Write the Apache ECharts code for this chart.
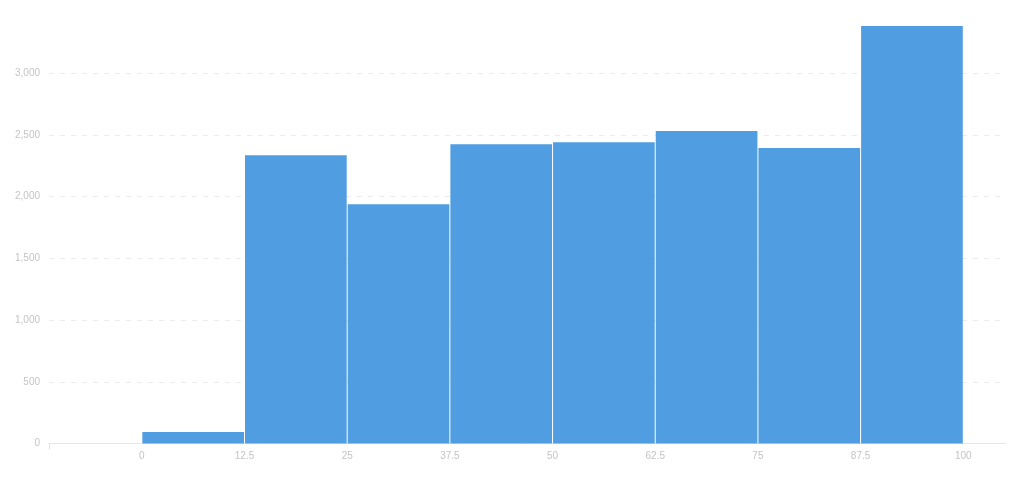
<!DOCTYPE html>
<html>
<head>
<meta charset="utf-8">
<script src="https://cdn.jsdelivr.net/npm/echarts@6/dist/echarts.min.js"></script>
<style>
html,body{margin:0;padding:0;background:#fff;}
#chart{width:1010px;height:479px;}
</style>
</head>
<body>
<div id="chart"></div>
<script>
var binStarts = [0, 12.5, 25, 37.5, 50, 62.5, 75, 87.5];
var binEnds = [12.5, 25, 37.5, 50, 62.5, 75, 87.5, 100];
var counts = [94, 2336, 1939, 2425, 2441, 2531, 2393, 3382];
var xTickLabels = [0, 12.5, 25, 37.5, 50, 62.5, 75, 87.5, 100];
var yTickValues = [0, 500, 1000, 1500, 2000, 2500, 3000];

var xMin = -11.3;
var xMax = 105.2;

var data = binStarts.map(function (s, i) { return [s, binEnds[i], counts[i]]; });

var chart = echarts.init(document.getElementById('chart'), null, {renderer: 'canvas'});
chart.setOption({
  animation: false,
  grid: {left: 49, right: 4, top: 26, bottom: 35.5},
  xAxis: {
    type: 'value',
    min: xMin,
    max: xMax,
    axisLine: {show: true, lineStyle: {color: '#e6e6e6', width: 1}},
    axisTick: {show: true, customValues: [xMin], length: 6, lineStyle: {color: '#e0e0e0'}},
    splitLine: {show: false},
    axisLabel: {
      customValues: xTickLabels,
      color: '#c4c4c4',
      fontSize: 10,
      fontFamily: '"Liberation Sans", Arial, sans-serif',
      margin: 8,
      showMinLabel: true,
      showMaxLabel: true
    }
  },
  yAxis: {
    type: 'value',
    min: 0,
    max: 'dataMax',
    axisLine: {show: false},
    axisTick: {show: false, customValues: yTickValues},
    axisLabel: {
      customValues: yTickValues,
      color: '#c4c4c4',
      fontSize: 10,
      fontFamily: '"Liberation Sans", Arial, sans-serif',
      margin: 9,
      formatter: function (v) { return v.toLocaleString('en-US'); }
    },
    splitLine: {
      show: true,
      lineStyle: {color: '#ececec', type: [5, 6], width: 1}
    }
  },
  series: [{
    type: 'custom',
    data: data,
    encode: {x: [0, 1], y: 2},
    renderItem: function (params, api) {
      var p0 = api.coord([api.value(0), api.value(2)]);
      var p1 = api.coord([api.value(1), 0]);
      return {
        type: 'rect',
        shape: {x: p0[0] + 0.5, y: p0[1], width: p1[0] - p0[0] - 1, height: p1[1] - p0[1]},
        style: {fill: '#509de2'}
      };
    }
  }]
});
</script>
</body>
</html>
